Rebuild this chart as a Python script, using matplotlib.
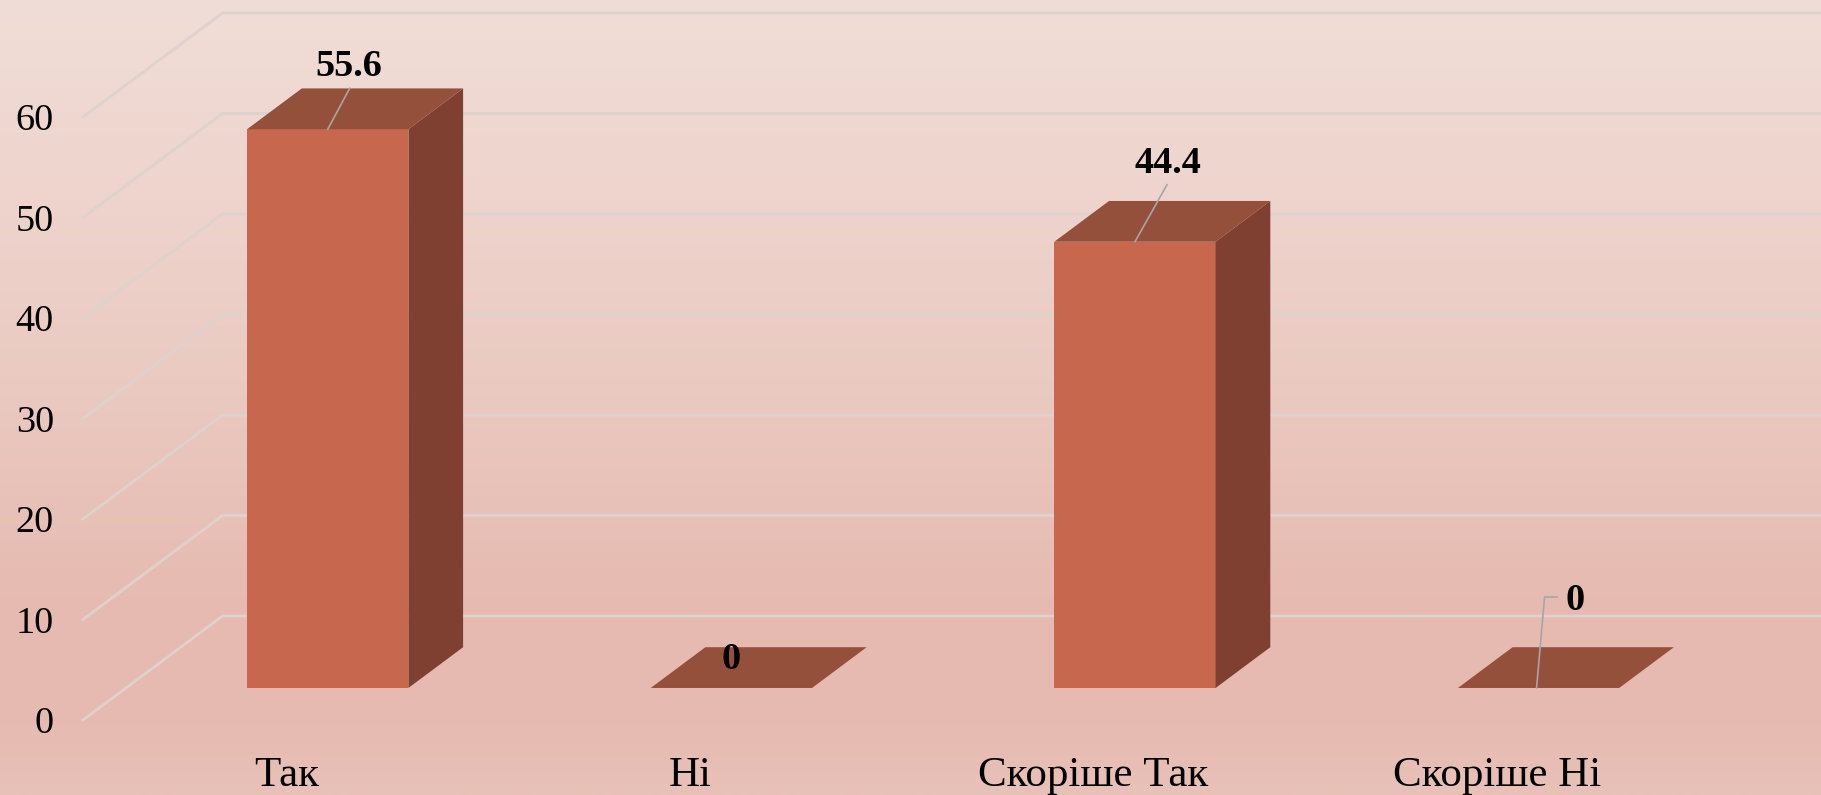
import matplotlib
matplotlib.use("Agg")
import matplotlib.pyplot as plt
import numpy as np

plt.rcParams["font.family"] = ["Liberation Serif", "DejaVu Serif"]

categories = ["Так", "Ні", "Скоріше Так", "Скоріше Ні"]
values = [55.6, 0, 44.4, 0]
y_ticks = [0, 10, 20, 30, 40, 50, 60]

W, H = 1821, 795
PX_PER_CAT = 403.6   # pixels per category
PX_PER_VAL = 10.05   # pixels per value unit
X0_PX = 83           # left end of the front axis
Y0_PX = 720          # value 0 on the front axis

# depth direction, whole floor depth = 1
DEPTH_X = 139.5 / PX_PER_CAT
DEPTH_Y = 104 / PX_PER_VAL
BAR_WIDTH = 161.3 / PX_PER_CAT
BAR_D0, BAR_D1 = 0.308, 0.70

FRONT = "#C7674E"
TOP = "#95503C"
SIDE = "#7F3F31"
GRID = "#DDD2CD"
LEADER = "#A6A6A6"

# label offsets in pixels from the top centre of the front face (right, up)
label_offsets = [(21.5, 62.5), (0, 28), (32.5, 78.5), (36, 87)]
leader_paths = [
    [(0, 0), (22, 41)],
    None,
    [(0, 0), (32, 57)],
    [(-2, 0), (6, 91), (18.5, 91)],
]


def dx(px):
    return px / PX_PER_CAT


def dy(px):
    return px / PX_PER_VAL


def project(c, v, d=0.0):
    return c + d * DEPTH_X, v + d * DEPTH_Y


fig = plt.figure(figsize=(W / 100, H / 100), dpi=100)
ax = fig.add_axes([0, 0, 1, 1])
xlim = (-X0_PX / PX_PER_CAT - 0.5, (W - X0_PX) / PX_PER_CAT - 0.5)
ylim = ((Y0_PX - H) / PX_PER_VAL, Y0_PX / PX_PER_VAL)

# background gradient, top to bottom
stops_y = [0, 0.25, 0.5, 0.75, 0.9, 1.0]
stops_rgb = np.array([
    [241, 221, 215],
    [238, 212, 205],
    [234, 201, 192],
    [230, 187, 177],
    [230, 186, 176],
    [232, 193, 184],
]) / 255
t = np.linspace(0, 1, 400)
grad = np.stack([np.interp(t, stops_y, stops_rgb[:, i]) for i in range(3)], axis=1)
ax.imshow(grad[:, None, :], extent=(*xlim, *ylim), aspect="auto", origin="upper", zorder=0)

# walls: floor-side line then back line to the right edge
for v in y_ticks:
    x_f, y_f = project(-0.5, v, 0)
    x_b, y_b = project(-0.5, v, 1)
    ax.plot([x_f, x_b, xlim[1]], [y_f, y_b, y_b], color=GRID, lw=2, zorder=1,
            solid_joinstyle="miter")
    ax.text(x_f - dx(29), v - dy(4), str(v), ha="right", va="center", fontsize=27.5, color="black")

for i, (name, val) in enumerate(zip(categories, values)):
    left = i - BAR_WIDTH / 2 + BAR_D0 * DEPTH_X
    right = left + BAR_WIDTH
    base = BAR_D0 * DEPTH_Y
    top = base + val
    span_x = (BAR_D1 - BAR_D0) * DEPTH_X
    span_y = (BAR_D1 - BAR_D0) * DEPTH_Y

    if val > 0:
        ax.fill([left, right, right, left], [base, base, top, top], color=FRONT, lw=0, zorder=3)
        ax.fill([right, right + span_x, right + span_x, right],
                [base, base + span_y, top + span_y, top], color=SIDE, lw=0, zorder=3)
    ax.fill([left, right, right + span_x, left + span_x],
            [top, top, top + span_y, top + span_y], color=TOP, lw=0, zorder=3)

    cx = (left + right) / 2
    off_x, off_y = label_offsets[i]
    ax.text(cx + dx(off_x), top + dy(off_y), f"{val:g}", ha="center", va="center",
            fontsize=27.5, fontweight="bold", color="black", zorder=5)
    if leader_paths[i]:
        xs = [cx + dx(p[0]) for p in leader_paths[i]]
        ys = [top + dy(p[1]) for p in leader_paths[i]]
        ax.plot(xs, ys, color=LEADER, lw=1.2, zorder=4)

    ax.text(i + dx(1.5), dy(Y0_PX - 776), name, ha="center", va="center", fontsize=31, color="black")

ax.set_xlim(xlim)
ax.set_ylim(ylim)
ax.axis("off")
fig.savefig("out.png", dpi=100)
